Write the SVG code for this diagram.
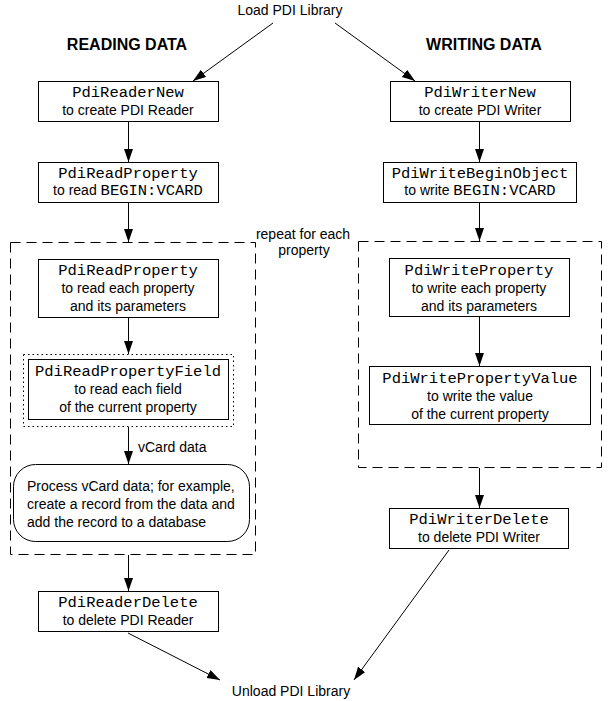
<svg xmlns="http://www.w3.org/2000/svg" width="609" height="701" viewBox="0 0 609 701">
<style>
.box{fill:#fff;stroke:#000;stroke-width:1}
.dash{fill:none;stroke:#000;stroke-width:1;stroke-dasharray:10 6}
.dot{fill:none;stroke:#000;stroke-width:1;stroke-dasharray:1.5 3}
.mono{font-family:"Liberation Mono","Courier New",monospace;font-size:15.5px;text-anchor:middle;fill:#000}
.sans{font-family:"Liberation Sans",Arial,sans-serif;font-size:14px;text-anchor:middle;fill:#000}
.left{text-anchor:start}
.head{font-family:"Liberation Sans",Arial,sans-serif;font-size:16px;font-weight:bold;text-anchor:middle;fill:#000}
.conn line{stroke:#000;stroke-width:1;marker-end:url(#ah)}
</style>
<defs>
<marker id="ah" markerUnits="userSpaceOnUse" markerWidth="14" markerHeight="10" refX="13" refY="4.5" orient="auto">
<path d="M0,0 L13,4.5 L0,9 Z" fill="#000"/>
</marker>
</defs>
<rect width="609" height="701" fill="#fff"/>

<g id="load"><text class="sans" x="290" y="15">Load PDI Library</text></g>
<g id="unload"><text class="sans" x="291" y="696">Unload PDI Library</text></g>
<g id="head-read"><text class="head" x="127" y="50">READING DATA</text></g>
<g id="head-write"><text class="head" x="484" y="50">WRITING DATA</text></g>

<g id="loop-read"><rect class="dash" x="10.5" y="242.5" width="245" height="312"/></g>
<g id="loop-write"><rect class="dash" x="358.5" y="241.5" width="243" height="226"/></g>
<g id="repeat-label">
<text class="sans" x="303" y="239">repeat for each</text>
<text class="sans" x="304" y="255">property</text>
</g>

<g id="reader-new">
<rect class="box" x="38.5" y="81.5" width="180" height="40"/>
<text class="mono" x="128" y="97">PdiReaderNew</text>
<text class="sans" x="128" y="115">to create PDI Reader</text>
</g>
<g id="read-begin">
<rect class="box" x="38.5" y="162.5" width="180" height="40"/>
<text class="mono" x="128" y="178">PdiReadProperty</text>
<text class="mono" x="128" y="195"><tspan font-family="Liberation Sans, Arial, sans-serif" font-size="14">to read </tspan>BEGIN:VCARD</text>
</g>
<g id="read-prop">
<rect class="box" x="38.5" y="259.5" width="180" height="58"/>
<text class="mono" x="128" y="275">PdiReadProperty</text>
<text class="sans" x="128" y="293">to read each property</text>
<text class="sans" x="128" y="311">and its parameters</text>
</g>
<g id="read-field">
<rect class="dot" x="23.5" y="354.5" width="210" height="72"/>
<rect class="box" x="28.5" y="359.5" width="200" height="60"/>
<text class="mono" x="128" y="376">PdiReadPropertyField</text>
<text class="sans" x="128" y="394">to read each field</text>
<text class="sans" x="128" y="412">of the current property</text>
</g>
<g id="process">
<rect class="box" x="13.5" y="464.5" width="236" height="77" rx="22" ry="22"/>
<text class="sans left" x="27" y="491">Process vCard data; for example,</text>
<text class="sans left" x="27" y="509">create a record from the data and</text>
<text class="sans left" x="27" y="527">add the record to a database</text>
</g>
<g id="reader-delete">
<rect class="box" x="38.5" y="591.5" width="180" height="40"/>
<text class="mono" x="128" y="607">PdiReaderDelete</text>
<text class="sans" x="128" y="625">to delete PDI Reader</text>
</g>

<g id="writer-new">
<rect class="box" x="390.5" y="81.5" width="180" height="40"/>
<text class="mono" x="480" y="97">PdiWriterNew</text>
<text class="sans" x="480" y="115">to create PDI Writer</text>
</g>
<g id="write-begin">
<rect class="box" x="383.5" y="162.5" width="193" height="40"/>
<text class="mono" x="480" y="178">PdiWriteBeginObject</text>
<text class="mono" x="480" y="195"><tspan font-family="Liberation Sans, Arial, sans-serif" font-size="14">to write </tspan>BEGIN:VCARD</text>
</g>
<g id="write-prop">
<rect class="box" x="389.5" y="258.5" width="180" height="58"/>
<text class="mono" x="479" y="275">PdiWriteProperty</text>
<text class="sans" x="479" y="293">to write each property</text>
<text class="sans" x="479" y="311">and its parameters</text>
</g>
<g id="write-value">
<rect class="box" x="369.5" y="366.5" width="221" height="58"/>
<text class="mono" x="480" y="383">PdiWritePropertyValue</text>
<text class="sans" x="480" y="401">to write the value</text>
<text class="sans" x="480" y="419">of the current property</text>
</g>
<g id="writer-delete">
<rect class="box" x="389.5" y="508.5" width="179" height="40"/>
<text class="mono" x="479" y="524">PdiWriterDelete</text>
<text class="sans" x="479" y="542">to delete PDI Writer</text>
</g>

<g id="vcard-label"><text class="sans left" x="138" y="452">vCard data</text></g>

<g class="conn" id="connectors">
<line x1="273" y1="23" x2="193" y2="81"/>
<line x1="335" y1="23" x2="415" y2="81"/>
<line x1="128.5" y1="122" x2="128.5" y2="162"/>
<line x1="128.5" y1="203" x2="128.5" y2="242"/>
<line x1="128.5" y1="318" x2="128.5" y2="354"/>
<line x1="128.5" y1="427" x2="128.5" y2="464"/>
<line x1="128.5" y1="555" x2="128.5" y2="591"/>
<line x1="128" y1="633" x2="220" y2="680"/>
<line x1="479.5" y1="122" x2="479.5" y2="162"/>
<line x1="479.5" y1="203" x2="479.5" y2="241"/>
<line x1="479.5" y1="317" x2="479.5" y2="366"/>
<line x1="479.5" y1="468" x2="479.5" y2="508"/>
<line x1="449" y1="550" x2="354" y2="680"/>
</g>
</svg>
